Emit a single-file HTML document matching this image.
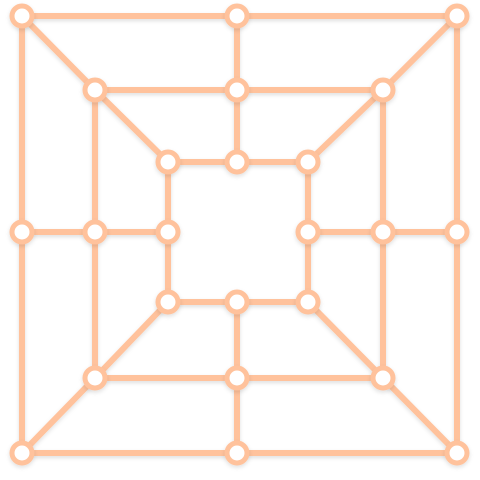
<!DOCTYPE html>
<html><head><meta charset="utf-8"><style>
html,body{margin:0;padding:0;background:#fff;width:480px;height:480px;overflow:hidden}
svg{display:block}
</style></head><body>
<svg id="chart" width="480" height="480">
<defs><filter id="sh" x="-10%" y="-10%" width="120%" height="120%"><feDropShadow dx="0" dy="2" stdDeviation="2" flood-color="#000" flood-opacity="0.12"/></filter></defs>
<g id="edges" filter="url(#sh)"></g>
<g id="nodes" filter="url(#sh)"></g>
</svg>
<script>
const nodeX = [22,237,457, 95,237,383, 168,237,308, 22,95,168, 308,383,457, 168,237,308, 95,237,383, 22,237,457];
const nodeY = [16,16,16, 90,90,90, 162,162,162, 232,232,232, 232,232,232, 302,302,302, 378,378,378, 453,453,453];
const edgeFrom = [0,1,3,4,6,7, 15,16,18,19,21,22, 0,9,3,10,6,11, 2,14,5,13,8,12, 1,4,9,10,12,13,19,16, 0,3,2,5,21,18,23,20];
const edgeTo   = [1,2,4,5,7,8, 16,17,19,20,22,23, 9,21,10,18,11,15, 14,23,13,20,12,17, 4,7,10,11,13,14,22,19, 3,6,5,8,18,15,20,17];
const ns='http://www.w3.org/2000/svg';
const eg=document.getElementById('edges'), ng=document.getElementById('nodes');
const col='#ffc29c';
for(let i=0;i<edgeFrom.length;i++){
  const l=document.createElementNS(ns,'line');
  l.setAttribute('x1',nodeX[edgeFrom[i]]);l.setAttribute('y1',nodeY[edgeFrom[i]]);
  l.setAttribute('x2',nodeX[edgeTo[i]]);l.setAttribute('y2',nodeY[edgeTo[i]]);
  l.setAttribute('stroke',col);l.setAttribute('stroke-width','6');
  
  
  eg.appendChild(l);
}
for(let i=0;i<nodeX.length;i++){
  const c=document.createElementNS(ns,'circle');
  c.setAttribute('cx',nodeX[i]);c.setAttribute('cy',nodeY[i]);c.setAttribute('r','10');
  c.setAttribute('fill','#fff');c.setAttribute('stroke',col);c.setAttribute('stroke-width','5');
  
  
  ng.appendChild(c);
}
</script>
</body></html>
